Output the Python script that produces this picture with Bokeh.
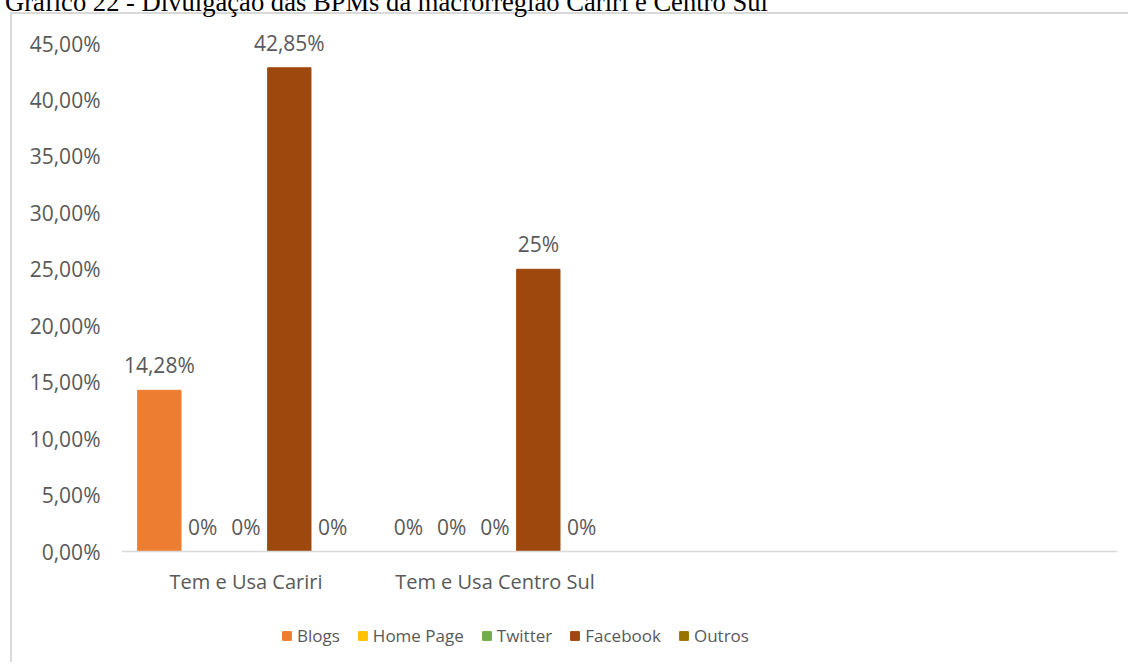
from bokeh.plotting import figure
from bokeh.models import (ColumnDataSource, FactorRange, CustomJSTickFormatter, FixedTicker,
                          LabelSet, Legend, LegendItem, Div, Range1d)
from bokeh.transform import dodge
from bokeh.core.properties import value
from bokeh.embed import file_html
from bokeh.resources import INLINE

# ---- data ----
categories = ["Tem e Usa Cariri", "Tem e Usa Centro Sul"]
extra_slots = [" ", "  "]          # empty category slots shown in the original
series_names = ["Blogs", "Home Page", "Twitter", "Facebook", "Outros"]
blogs = [14.28, 0]
home_page = [0, 0]
twitter = [0, 0]
facebook = [42.85, 25]
outros = [0, 0]
y_ticks = [0, 5, 10, 15, 20, 25, 30, 35, 40, 45]
title_text = "Gráfico 22 - Divulgação das BPMs da macrorregião Cariri e Centro Sul"

colors = ["#ED7D31", "#FFC000", "#70AD47", "#9E480E", "#997300"]
series_values = [blogs, home_page, twitter, facebook, outros]


def fmt(v):
    if float(v).is_integer():
        return "%d%%" % v
    return ("%.2f" % v).replace(".", ",") + "%"


W, H = 1132, 665
AX_TOP_PX, AX_ZERO_PX = 43, 551           # pixel rows of 45 % and 0 %
px_per_unit = (AX_ZERO_PX - AX_TOP_PX) / 45.0
y_end = AX_ZERO_PX / px_per_unit
y_start = -(H - AX_ZERO_PX) / px_per_unit

p = figure(x_range=FactorRange(factors=categories + extra_slots, range_padding=0),
           y_range=Range1d(y_start, y_end), width=W, height=H, output_backend="svg",
           toolbar_location=None, min_border_left=121, min_border_right=15,
           min_border_top=0, min_border_bottom=0)
p.outline_line_color = None
p.xgrid.grid_line_color = None
p.ygrid.grid_line_color = None
p.background_fill_color = "white"
p.border_fill_color = "white"

bar_w = 0.174
offsets = [-2 * bar_w, -bar_w, 0, bar_w, 2 * bar_w]
items = []
for name, vals, col, off in zip(series_names, series_values, colors, offsets):
    src = ColumnDataSource(dict(cat=categories, val=vals, lab=[fmt(v) for v in vals]))
    r = p.vbar(x=dodge("cat", off, range=p.x_range), top="val", bottom=0, width=bar_w,
               source=src, fill_color=col, line_color=col)
    items.append(LegendItem(label=name, renderers=[r]))
    ls = LabelSet(x=dodge("cat", off, range=p.x_range), y="val", text="lab", source=src,
                  text_align="center", text_baseline="alphabetic", y_offset=17,
                  text_font=value("Open Sans"), text_font_size="21px", text_color="#595959")
    p.add_layout(ls)

# axes
yax = p.yaxis[0]
yax.ticker = FixedTicker(ticks=y_ticks)
yax.formatter = CustomJSTickFormatter(code="return tick.toFixed(2).replace('.', ',') + '%';")
yax.axis_line_color = None
yax.major_tick_line_color = None
yax.minor_tick_line_color = None
yax.major_tick_out = 0
yax.major_label_standoff = 21
yax.major_label_text_font = "Open Sans"
yax.major_label_text_font_size = "21px"
yax.major_label_text_color = "#595959"

xax = p.xaxis[0]
xax.fixed_location = 0
xax.axis_line_color = "#D9D9D9"
xax.axis_line_width = 1.5
xax.major_tick_line_color = None
xax.minor_tick_line_color = None
xax.major_tick_out = 0
xax.major_tick_in = 0
xax.major_label_standoff = 16
xax.major_label_text_font = "Open Sans"
xax.major_label_text_font_size = "20px"
xax.major_label_text_color = "#595959"

legend = Legend(items=items, orientation="horizontal", location=(160, 18),
                glyph_width=11, glyph_height=11, label_standoff=5, spacing=17,
                padding=0, margin=0, border_line_color=None, background_fill_alpha=0,
                label_text_font="Open Sans", label_text_font_size="17px",
                label_text_color="#595959")
p.add_layout(legend, "center")

# chart-area border (light grey, top and left edges)
border_div = Div(text="", width=1118, height=650,
                 styles={"position": "absolute", "left": "10px", "top": "12px",
                         "width": "1118px", "height": "650px", "box-sizing": "border-box",
                         "border-top": "2px solid #D9D9D9", "border-left": "2px solid #D9D9D9",
                         "pointer-events": "none"})

title_div = Div(text=('<div style="font-family:\'Liberation Serif\';font-size:26.6px;'
                      'line-height:27px;white-space:nowrap;color:#000;">%s</div>' % title_text),
                width=900, height=14,
                styles={"position": "absolute", "left": "5px", "top": "-11px"})

p.elements = [border_div, title_div]
open("out.html", "w").write(file_html(p, INLINE))
